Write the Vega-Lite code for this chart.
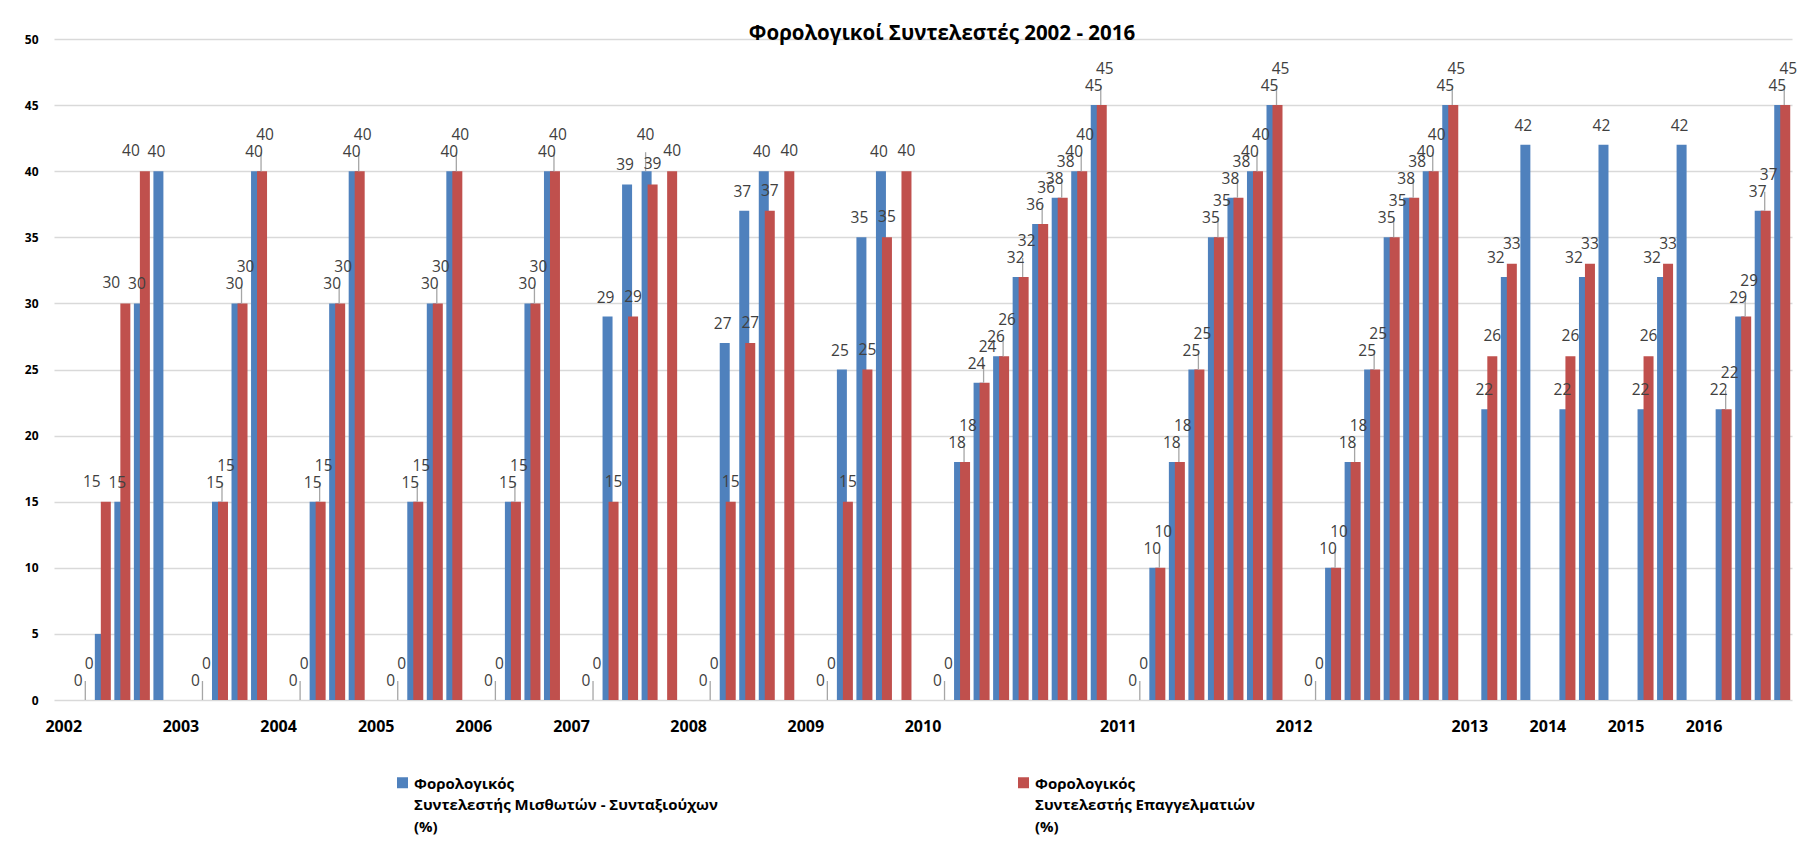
{
  "$schema": "https://vega.github.io/schema/vega-lite/v6.json",
  "autosize": {"type": "none"},
  "padding": {"left": 54, "top": 39, "right": 15, "bottom": 147},
  "width": 1738,
  "height": 661,
  "background": "white",
  "config": {
    "font": "Open Sans",
    "view": {"stroke": null},
    "axis": {"labelFont": "Open Sans"}
  },
  "title": {
    "text": "Φορολογικοί Συντελεστές 2002 - 2016",
    "fontSize": 20.5,
    "fontWeight": "bold",
    "color": "#000000",
    "anchor": "middle",
    "baseline": "alphabetic",
    "offset": 3,
    "dy": 30,
    "dx": 19
  },
  "data": {
    "values": [
      {"cat": "2002"},
      {"cat": "2002-1", "blue": 0, "red": 0},
      {"cat": "2002-2", "blue": 5, "red": 15},
      {"cat": "2002-3", "blue": 15, "red": 30},
      {"cat": "2002-4", "blue": 30, "red": 40},
      {"cat": "2002-5", "blue": 40, "red": null},
      {"cat": "2003"},
      {"cat": "2003-1", "blue": 0, "red": 0},
      {"cat": "2003-2", "blue": 15, "red": 15},
      {"cat": "2003-3", "blue": 30, "red": 30},
      {"cat": "2003-4", "blue": 40, "red": 40},
      {"cat": "2004"},
      {"cat": "2004-1", "blue": 0, "red": 0},
      {"cat": "2004-2", "blue": 15, "red": 15},
      {"cat": "2004-3", "blue": 30, "red": 30},
      {"cat": "2004-4", "blue": 40, "red": 40},
      {"cat": "2005"},
      {"cat": "2005-1", "blue": 0, "red": 0},
      {"cat": "2005-2", "blue": 15, "red": 15},
      {"cat": "2005-3", "blue": 30, "red": 30},
      {"cat": "2005-4", "blue": 40, "red": 40},
      {"cat": "2006"},
      {"cat": "2006-1", "blue": 0, "red": 0},
      {"cat": "2006-2", "blue": 15, "red": 15},
      {"cat": "2006-3", "blue": 30, "red": 30},
      {"cat": "2006-4", "blue": 40, "red": 40},
      {"cat": "2007"},
      {"cat": "2007-1", "blue": 0, "red": 0},
      {"cat": "2007-2", "blue": 29, "red": 15},
      {"cat": "2007-3", "blue": 39, "red": 29},
      {"cat": "2007-4", "blue": 40, "red": 39},
      {"cat": "2007-5", "blue": null, "red": 40},
      {"cat": "2008"},
      {"cat": "2008-1", "blue": 0, "red": 0},
      {"cat": "2008-2", "blue": 27, "red": 15},
      {"cat": "2008-3", "blue": 37, "red": 27},
      {"cat": "2008-4", "blue": 40, "red": 37},
      {"cat": "2008-5", "blue": null, "red": 40},
      {"cat": "2009"},
      {"cat": "2009-1", "blue": 0, "red": 0},
      {"cat": "2009-2", "blue": 25, "red": 15},
      {"cat": "2009-3", "blue": 35, "red": 25},
      {"cat": "2009-4", "blue": 40, "red": 35},
      {"cat": "2009-5", "blue": null, "red": 40},
      {"cat": "2010"},
      {"cat": "2010-1", "blue": 0, "red": 0},
      {"cat": "2010-2", "blue": 18, "red": 18},
      {"cat": "2010-3", "blue": 24, "red": 24},
      {"cat": "2010-4", "blue": 26, "red": 26},
      {"cat": "2010-5", "blue": 32, "red": 32},
      {"cat": "2010-6", "blue": 36, "red": 36},
      {"cat": "2010-7", "blue": 38, "red": 38},
      {"cat": "2010-8", "blue": 40, "red": 40},
      {"cat": "2010-9", "blue": 45, "red": 45},
      {"cat": "2011"},
      {"cat": "2011-1", "blue": 0, "red": 0},
      {"cat": "2011-2", "blue": 10, "red": 10},
      {"cat": "2011-3", "blue": 18, "red": 18},
      {"cat": "2011-4", "blue": 25, "red": 25},
      {"cat": "2011-5", "blue": 35, "red": 35},
      {"cat": "2011-6", "blue": 38, "red": 38},
      {"cat": "2011-7", "blue": 40, "red": 40},
      {"cat": "2011-8", "blue": 45, "red": 45},
      {"cat": "2012"},
      {"cat": "2012-1", "blue": 0, "red": 0},
      {"cat": "2012-2", "blue": 10, "red": 10},
      {"cat": "2012-3", "blue": 18, "red": 18},
      {"cat": "2012-4", "blue": 25, "red": 25},
      {"cat": "2012-5", "blue": 35, "red": 35},
      {"cat": "2012-6", "blue": 38, "red": 38},
      {"cat": "2012-7", "blue": 40, "red": 40},
      {"cat": "2012-8", "blue": 45, "red": 45},
      {"cat": "2013"},
      {"cat": "2013-1", "blue": 22, "red": 26},
      {"cat": "2013-2", "blue": 32, "red": 33},
      {"cat": "2013-3", "blue": 42, "red": null},
      {"cat": "2014"},
      {"cat": "2014-1", "blue": 22, "red": 26},
      {"cat": "2014-2", "blue": 32, "red": 33},
      {"cat": "2014-3", "blue": 42, "red": null},
      {"cat": "2015"},
      {"cat": "2015-1", "blue": 22, "red": 26},
      {"cat": "2015-2", "blue": 32, "red": 33},
      {"cat": "2015-3", "blue": 42, "red": null},
      {"cat": "2016"},
      {"cat": "2016-1", "blue": 22, "red": 22},
      {"cat": "2016-2", "blue": 29, "red": 29},
      {"cat": "2016-3", "blue": 37, "red": 37},
      {"cat": "2016-4", "blue": 45, "red": 45}
    ]
  },
  "encoding": {
    "x": {
      "field": "cat",
      "type": "ordinal",
      "sort": null,
      "scale": {
        "domain": [
          "2002", "2002-1", "2002-2", "2002-3", "2002-4", "2002-5",
          "2003", "2003-1", "2003-2", "2003-3", "2003-4",
          "2004", "2004-1", "2004-2", "2004-3", "2004-4",
          "2005", "2005-1", "2005-2", "2005-3", "2005-4",
          "2006", "2006-1", "2006-2", "2006-3", "2006-4",
          "2007", "2007-1", "2007-2", "2007-3", "2007-4", "2007-5",
          "2008", "2008-1", "2008-2", "2008-3", "2008-4", "2008-5",
          "2009", "2009-1", "2009-2", "2009-3", "2009-4", "2009-5",
          "2010", "2010-1", "2010-2", "2010-3", "2010-4", "2010-5", "2010-6", "2010-7", "2010-8", "2010-9",
          "2011", "2011-1", "2011-2", "2011-3", "2011-4", "2011-5", "2011-6", "2011-7", "2011-8",
          "2012", "2012-1", "2012-2", "2012-3", "2012-4", "2012-5", "2012-6", "2012-7", "2012-8",
          "2013", "2013-1", "2013-2", "2013-3",
          "2014", "2014-1", "2014-2", "2014-3",
          "2015", "2015-1", "2015-2", "2015-3",
          "2016", "2016-1", "2016-2", "2016-3", "2016-4"
        ],
        "paddingInner": 0,
        "paddingOuter": 0
      },
      "axis": {
        "title": null,
        "labelExpr": "indexof(datum.value, '-') < 0 ? datum.value : ''",
        "labelAngle": 0,
        "labelOverlap": false,
        "labelFontSize": 16,
        "labelFontWeight": "bold",
        "labelColor": "#000000",
        "labelBaseline": "alphabetic",
        "labelPadding": 31,
        "ticks": false,
        "tickSize": 0,
        "domain": false,
        "grid": false
      }
    }
  },
  "layer": [
    {
      "mark": {"type": "bar", "width": 10, "xOffset": -3},
      "encoding": {
        "y": {
          "field": "blue",
          "type": "quantitative",
          "scale": {"domain": [0, 50], "nice": false},
          "axis": {
            "title": null,
            "values": [0, 5, 10, 15, 20, 25, 30, 35, 40, 45, 50],
            "labelFontSize": 12,
            "labelFontWeight": "bold",
            "labelColor": "#000000",
            "labelPadding": 16,
            "ticks": false,
            "tickSize": 0,
            "domain": false,
            "grid": true,
            "gridColor": "#D9D9D9",
            "gridWidth": 1.3
          }
        },
        "color": {
          "datum": "Φορολογικός Συντελεστής Μισθωτών - Συνταξιούχων (%)",
          "type": "nominal",
          "scale": {
            "domain": [
              "Φορολογικός Συντελεστής Μισθωτών - Συνταξιούχων (%)",
              "Φορολογικός Συντελεστής Επαγγελματιών (%)"
            ],
            "range": ["#4F81BD", "#C0504D"]
          },
          "legend": {
            "title": null,
            "orient": "none",
            "legendX": 341,
            "legendY": 736,
            "direction": "horizontal",
            "columns": 2,
            "columnPadding": 298,
            "symbolType": "square",
            "symbolSize": 121,
            "symbolStrokeWidth": 0,
            "labelFont": "Open Sans",
            "labelFontSize": 15,
            "labelFontWeight": "bold",
            "labelColor": "#000000",
            "labelLimit": 1000,
            "labelOffset": 4,
            "labelBaseline": "alphabetic",
            "labelExpr": "['Φορολογικός', substring(datum.label, 12, length(datum.label) - 4), '(%)']",
            "encode": {
              "labels": {"update": {"dy": {"value": 6}, "lineHeight": {"value": 21.5}}}
            }
          }
        }
      }
    },
    {
      "mark": {"type": "bar", "width": 10, "xOffset": 3},
      "encoding": {
        "y": {"field": "red", "type": "quantitative"},
        "color": {
          "datum": "Φορολογικός Συντελεστής Επαγγελματιών (%)",
          "type": "nominal"
        }
      }
    },
    {
      "transform": [{"filter": "datum.red != null && datum.red == datum.blue"}],
      "mark": {"type": "rule", "xOffset": 2, "y2Offset": -19, "color": "#A6A6A6", "strokeWidth": 1.3},
      "encoding": {
        "y": {"field": "red", "type": "quantitative"},
        "y2": {"field": "red"}
      }
    },
    {
      "transform": [{"filter": "datum.blue != null && datum.red != null && datum.blue - datum.red == 1"}],
      "mark": {"type": "rule", "xOffset": -4, "y2Offset": -19, "color": "#A6A6A6", "strokeWidth": 1.3},
      "encoding": {
        "y": {"field": "blue", "type": "quantitative"},
        "y2": {"field": "blue"}
      }
    },
    {
      "transform": [{"filter": "datum.blue != null && datum.blue != 5 && !(datum.red != null && (datum.blue - datum.red == 1 || datum.red - datum.blue == 1))"}],
      "mark": {"type": "text", "xOffset": -5, "dy": -14, "baseline": "alphabetic", "fontSize": 15.5, "color": "#404040"},
      "encoding": {
        "y": {"field": "blue", "type": "quantitative"},
        "text": {"field": "blue", "type": "quantitative"}
      }
    },
    {
      "transform": [{"filter": "datum.blue != null && datum.red != null && datum.blue - datum.red == 1"}],
      "mark": {"type": "text", "xOffset": -4, "dy": -31, "baseline": "alphabetic", "fontSize": 15.5, "color": "#404040"},
      "encoding": {
        "y": {"field": "blue", "type": "quantitative"},
        "text": {"field": "blue", "type": "quantitative"}
      }
    },
    {
      "transform": [{"filter": "datum.blue != null && datum.red != null && datum.red - datum.blue == 1"}],
      "mark": {"type": "text", "xOffset": -13, "dy": -14, "baseline": "alphabetic", "fontSize": 15.5, "color": "#404040"},
      "encoding": {
        "y": {"field": "blue", "type": "quantitative"},
        "text": {"field": "blue", "type": "quantitative"}
      }
    },
    {
      "transform": [{"filter": "datum.red != null && datum.red == datum.blue"}],
      "mark": {"type": "text", "xOffset": 6, "dy": -31, "baseline": "alphabetic", "fontSize": 15.5, "color": "#404040"},
      "encoding": {
        "y": {"field": "red", "type": "quantitative"},
        "text": {"field": "red", "type": "quantitative"}
      }
    },
    {
      "transform": [{"filter": "datum.red != null && datum.blue != null && datum.red - datum.blue >= 10"}],
      "mark": {"type": "text", "xOffset": -11, "dy": -15, "baseline": "alphabetic", "fontSize": 15.5, "color": "#404040"},
      "encoding": {
        "y": {"field": "red", "type": "quantitative"},
        "text": {"field": "red", "type": "quantitative"}
      }
    },
    {
      "transform": [{"filter": "datum.red != null && datum.red != datum.blue && !(datum.blue != null && datum.red - datum.blue >= 10)"}],
      "mark": {"type": "text", "xOffset": 3, "dy": -15, "baseline": "alphabetic", "fontSize": 15.5, "color": "#404040"},
      "encoding": {
        "y": {"field": "red", "type": "quantitative"},
        "text": {"field": "red", "type": "quantitative"}
      }
    }
  ]
}
